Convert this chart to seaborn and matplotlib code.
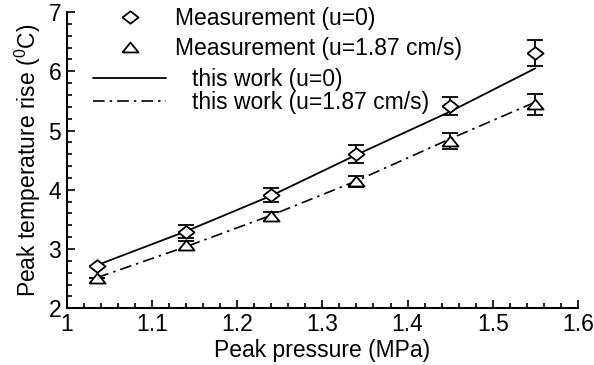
import numpy as np
import pandas as pd
import matplotlib
matplotlib.use("Agg")
import matplotlib.pyplot as plt
from matplotlib.lines import Line2D
from matplotlib.ticker import MultipleLocator, FuncFormatter
import seaborn as sns

# ---- data ----
pressure = [1.036, 1.14, 1.24, 1.34, 1.45, 1.55]
meas_u0 = [2.72, 3.29, 3.91, 4.61, 5.41, 6.31]
err_u0 = [0.0, 0.11, 0.12, 0.15, 0.15, 0.22]
meas_u187 = [2.51, 3.06, 3.55, 4.14, 4.82, 5.44]
err_u187 = [0.0, 0.07, 0.07, 0.10, 0.14, 0.17]
model_u0 = [2.73, 3.30, 3.90, 4.59, 5.32, 6.05]
model_u187 = [2.52, 3.04, 3.57, 4.15, 4.86, 5.48]

labels = ["Measurement (u=0)", "Measurement (u=1.87 cm/s)",
          "this work (u=0)", "this work (u=1.87 cm/s)"]
xticks = [1, 1.1, 1.2, 1.3, 1.4, 1.5, 1.6]
yticks = [2, 3, 4, 5, 6, 7]

sns.set_style("ticks")
plt.rcParams['font.family'] = ['Liberation Sans', 'DejaVu Sans']
plt.rcParams['mathtext.fontset'] = 'custom'
plt.rcParams['mathtext.rm'] = 'Liberation Sans'
plt.rcParams['mathtext.it'] = 'Liberation Sans:italic'
FS = 16.5

W, H = 594, 365
fig = plt.figure(figsize=(W / 100, H / 100), dpi=100)
x0, x1, y0, y1 = 66.7, 578, 12, 308.3
ax = fig.add_axes([x0 / W, 1 - y1 / H, (x1 - x0) / W, (y1 - y0) / H])

diamond = [(-1, 0), (0, 0.78), (1, 0), (0, -0.78), (-1, 0)]
triangle = [(-1, -0.62), (1, -0.62), (0, 0.62), (-1, -0.62)]

df_model = pd.DataFrame({"p": pressure, "m0": model_u0, "m1": model_u187})
sns.lineplot(data=df_model, x="p", y="m0", ax=ax, color="black", lw=1.3,
             zorder=2)
sns.lineplot(data=df_model, x="p", y="m1", ax=ax, color="black", lw=1.2,
             dashes=False, zorder=2)
ax.lines[-1].set_dashes((7, 3, 1.5, 3))

ax.errorbar(pressure, meas_u0, yerr=err_u0, fmt="none", ecolor="black",
            elinewidth=1.3, capsize=5.5, capthick=1.3, zorder=3)
ax.errorbar(pressure, meas_u187, yerr=err_u187, fmt="none", ecolor="black",
            elinewidth=1.3, capsize=5.5, capthick=1.3, zorder=3)

df_meas = pd.DataFrame({"p": pressure, "t0": meas_u0, "t1": meas_u187})
sns.scatterplot(data=df_meas, x="p", y="t0", ax=ax, marker=diamond, s=135,
                facecolor="white", edgecolor="black", linewidth=1.3, zorder=4)
sns.scatterplot(data=df_meas, x="p", y="t1", ax=ax, marker=triangle, s=135,
                facecolor="white", edgecolor="black", linewidth=1.3, zorder=4)

ax.set_xlim(1, 1.6)
ax.set_ylim(2, 7)
ax.set_xticks(xticks)
ax.set_yticks(yticks)
ax.xaxis.set_minor_locator(MultipleLocator(0.02))
ax.yaxis.set_minor_locator(MultipleLocator(0.2))
fmt = FuncFormatter(lambda v, p: "%g" % round(v, 3))
ax.xaxis.set_major_formatter(fmt)
ax.yaxis.set_major_formatter(fmt)
ax.tick_params(which="both", direction="in", color="black", labelsize=FS,
               labelcolor="black", width=1.2)
ax.tick_params(which="major", length=6)
ax.tick_params(which="minor", length=3.5)
ax.tick_params(axis="y", pad=4)
ax.tick_params(axis="x", pad=3.5)
for s in ["top", "right"]:
    ax.spines[s].set_visible(False)
for s in ["left", "bottom"]:
    ax.spines[s].set_linewidth(1.5)
    ax.spines[s].set_color("black")

ax.set_xlabel("Peak pressure (MPa)", fontsize=FS, labelpad=2, color="black")
ax.set_ylabel(r"Peak temperature rise ($^{0}$C)", fontsize=FS, labelpad=4,
              color="black")

# legends (no frame), markers group and lines group
h_m = [Line2D([], [], ls="none", marker=diamond, ms=11.5, mfc="white",
              mec="black", mew=1.3),
       Line2D([], [], ls="none", marker=triangle, ms=11.5, mfc="white",
              mec="black", mew=1.3)]
leg1 = fig.legend(h_m, labels[:2], loc="upper left",
                  bbox_to_anchor=(118.5 / W, 1 - 7 / H), frameon=False,
                  fontsize=FS, handlelength=1.0, handletextpad=1.46,
                  borderpad=0, borderaxespad=0, labelspacing=0.3)
h_l = [Line2D([], [], color="black", lw=1.3),
       Line2D([], [], color="black", lw=1.2, dashes=(7, 3, 1.5, 3))]
leg2 = fig.legend(h_l, labels[2:], loc="upper left",
                  bbox_to_anchor=(93 / W, 1 - 68 / H), frameon=False,
                  fontsize=FS, handlelength=3.2, handletextpad=1.13,
                  borderpad=0, borderaxespad=0, labelspacing=0.0)
for t in leg1.get_texts() + leg2.get_texts():
    t.set_color("black")

fig.savefig("out.png", dpi=100)
